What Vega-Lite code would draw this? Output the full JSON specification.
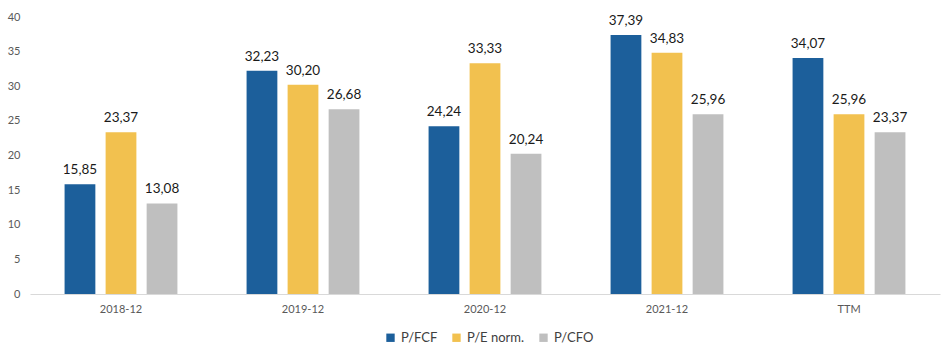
{
  "$schema": "https://vega.github.io/schema/vega-lite/v6.json",
  "width": 910,
  "height": 277,
  "autosize": {"type": "none"},
  "padding": {"left": 30, "top": 17, "right": 5, "bottom": 67},
  "background": "white",
  "config": {
    "view": {"stroke": null},
    "font": "Lato",
    "locale": {"number": {"decimal": ",", "thousands": ".", "grouping": [3], "currency": ["", " €"]}}
  },
  "data": {
    "values": [
      {"period": "2018-12", "metric": "P/FCF", "value": 15.85},
      {"period": "2018-12", "metric": "P/E norm.", "value": 23.37},
      {"period": "2018-12", "metric": "P/CFO", "value": 13.08},
      {"period": "2019-12", "metric": "P/FCF", "value": 32.23},
      {"period": "2019-12", "metric": "P/E norm.", "value": 30.20},
      {"period": "2019-12", "metric": "P/CFO", "value": 26.68},
      {"period": "2020-12", "metric": "P/FCF", "value": 24.24},
      {"period": "2020-12", "metric": "P/E norm.", "value": 33.33},
      {"period": "2020-12", "metric": "P/CFO", "value": 20.24},
      {"period": "2021-12", "metric": "P/FCF", "value": 37.39},
      {"period": "2021-12", "metric": "P/E norm.", "value": 34.83},
      {"period": "2021-12", "metric": "P/CFO", "value": 25.96},
      {"period": "TTM", "metric": "P/FCF", "value": 34.07},
      {"period": "TTM", "metric": "P/E norm.", "value": 25.96},
      {"period": "TTM", "metric": "P/CFO", "value": 23.37}
    ]
  },
  "encoding": {
    "x": {
      "field": "period", "type": "nominal", "sort": null,
      "scale": {"paddingInner": 0.38, "paddingOuter": 0.19},
      "axis": {"title": null, "labelAngle": 0, "ticks": false, "domainColor": "#d9d9d9", "domainWidth": 1,
               "labelColor": "#595959", "labelFontSize": 11, "labelPadding": 9}
    },
    "xOffset": {"field": "metric", "type": "nominal", "sort": ["P/FCF", "P/E norm.", "P/CFO"],
                "scale": {"paddingInner": 0.25}},
    "y": {
      "field": "value", "type": "quantitative",
      "scale": {"domain": [0, 40]},
      "axis": {"title": null, "grid": false, "domain": false, "ticks": false, "tickCount": 8,
               "labelColor": "#595959", "labelFontSize": 11, "labelPadding": 10}
    }
  },
  "layer": [
    {
      "mark": {"type": "bar"},
      "encoding": {
        "color": {
          "field": "metric", "type": "nominal", "sort": ["P/FCF", "P/E norm.", "P/CFO"],
          "scale": {"domain": ["P/FCF", "P/E norm.", "P/CFO"], "range": ["#1c5f9b", "#f2c14f", "#bfbfbf"]},
          "legend": {
            "title": null, "orient": "none", "direction": "horizontal",
            "legendX": 354, "legendY": 314,
            "symbolType": "square", "symbolSize": 70, "symbolStrokeWidth": 0,
            "labelFontSize": 13, "labelColor": "#404040", "columnPadding": 12, "labelOffset": 4
          }
        }
      }
    },
    {
      "mark": {"type": "text", "baseline": "bottom", "dy": -7, "fontSize": 13.5, "color": "#1a1a1a"},
      "encoding": {
        "text": {"field": "value", "type": "quantitative", "format": ".2f"}
      }
    }
  ]
}
